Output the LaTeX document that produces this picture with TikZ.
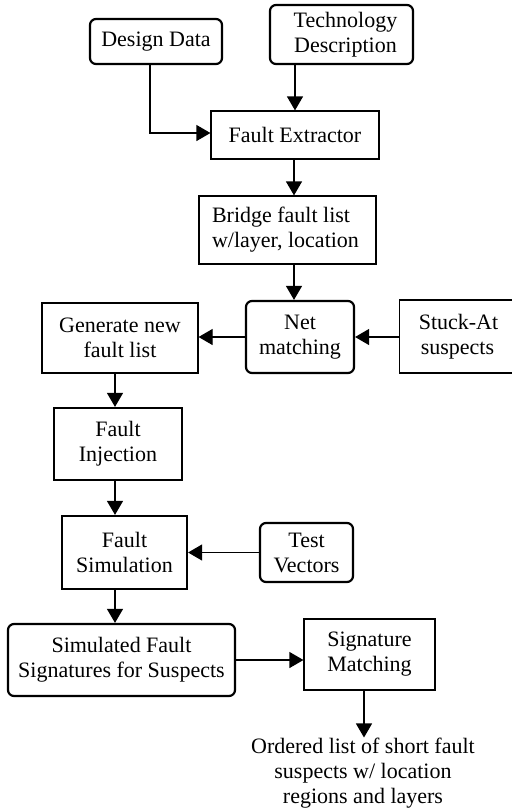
\documentclass[tikz,border=0pt]{standalone}
\usepackage{fontspec}
\setmainfont{Liberation Serif}
\usetikzlibrary{arrows.meta,calc}
\begin{document}
\begin{tikzpicture}[x=0.5pt,y=-0.5pt,
  every node/.style={font=\fontsize{11}{12.5}\selectfont, align=center, inner sep=0pt},
  thinbox/.style={draw, line width=0.6pt, rectangle},
  thickbox/.style={draw, line width=1.1pt, rectangle},
  roundbox/.style={draw, line width=1.1pt, rectangle, rounded corners=3pt},
  flow/.style={line width=0.6pt, -{Triangle[length=7pt,width=8pt]}}
]
\useasboundingbox (0,0) rectangle (512,811);

% boxes
\node[roundbox, minimum width=66pt, minimum height=22.5pt] (design) at (156,41.5) {Design Data};
\node[roundbox, minimum width=71.5pt, minimum height=29.5pt] (tech) at (341.5,34.5) {\hspace*{4pt}Technology\\\hspace*{4pt}Description};
\node[thinbox, minimum width=84pt, minimum height=24pt] (extractor) at (295,135) {Fault Extractor};
\node[thinbox, minimum width=88.5pt, minimum height=34pt, align=left] (bridge) at (287.5,230) {\hspace*{3pt}Bridge fault list\\\hspace*{3pt}w/layer, location\hspace*{5pt}};
\node[roundbox, minimum width=54pt, minimum height=36pt] (net) at (300,337) {Net\\matching};
\node[thinbox, minimum width=59pt, minimum height=36.5pt] (stuck) at (458.5,336.5) {Stuck-At\\suspects\hspace*{1pt}};
\node[thinbox, minimum width=78pt, minimum height=35pt] (generate) at (120,338) {Generate new\\fault list};
\node[thickbox, minimum width=64pt, minimum height=36pt] (injection) at (118,444) {Fault\\Injection};
\node[thickbox, minimum width=62.5pt, minimum height=36.5pt] (simulation) at (124.5,552.5) {Fault\\Simulation};
\node[roundbox, minimum width=46.5pt, minimum height=29.5pt] (test) at (306.5,552.5) {Test\\Vectors};
\node[roundbox, minimum width=113.5pt, minimum height=36pt] (simulated) at (121.5,660) {Simulated Fault\\Signatures for Suspects};
\node[thinbox, minimum width=65.5pt, minimum height=35.5pt] (sigmatch) at (369.5,654.5) {Signature\\Matching};
\node (output) at (363,773) {Ordered list of short fault\\suspects w/ location\\regions and layers};

% connectors
\coordinate (ddrop) at ($(design.south)+(-6,0)$);
\coordinate (dturn) at ($(extractor.west)+(-30,-2)$);
\draw[line width=0.6pt] (ddrop) |- (dturn);
\draw[flow] (dturn) -- ($(extractor.west)+(0,-2)$);
\draw[flow] (extractor.north |- tech.south) -- (extractor.north);
\coordinate (trunk) at ($(extractor.south)+(-1,0)$);
\draw[flow] (trunk) -- (trunk |- bridge.north);
\draw[flow] (trunk |- bridge.south) -- (trunk |- net.north);
\draw[flow] (net.east -| stuck.west) -- (net.east);
\draw[flow] (net.west) -- (net.west -| generate.east);
\coordinate (lcol) at (115,0);
\draw[flow] (lcol |- generate.south) -- (lcol |- injection.north);
\draw[flow] (lcol |- injection.south) -- (lcol |- simulation.north);
\draw[flow] (test.west) -- (test.west -| simulation.east);
\draw[flow] (lcol |- simulation.south) -- (lcol |- simulated.north);
\draw[flow] (simulated.east) -- (simulated.east -| sigmatch.west);
\coordinate (ocol) at (364,0);
\draw[flow] (ocol |- sigmatch.south) -- (ocol |- output.north);
\end{tikzpicture}
\end{document}
